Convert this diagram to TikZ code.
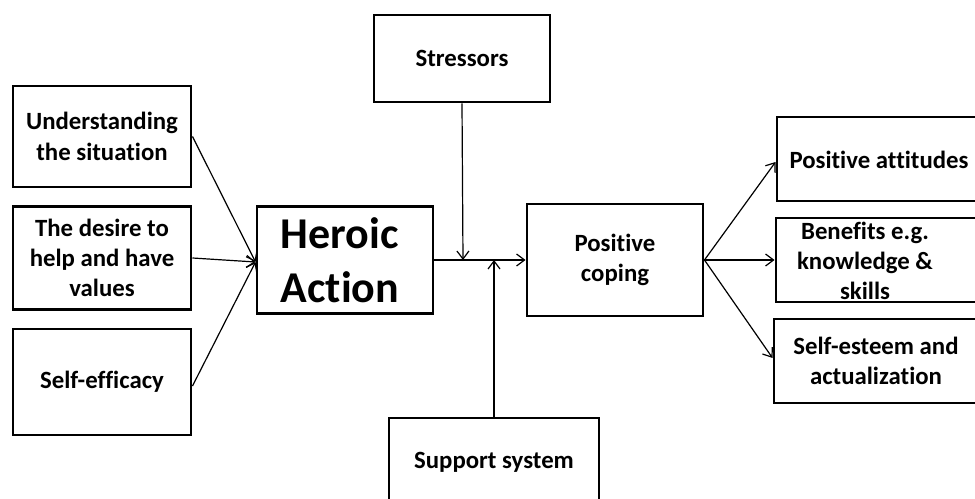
\documentclass[tikz,border=0pt]{standalone}
\usepackage{fontspec}
\setmainfont{Carlito}[Ligatures={NoCommon}]
\usetikzlibrary{arrows.meta}
\begin{document}
\begin{tikzpicture}[x=0.75pt,y=-0.75pt,
  box/.style={draw=black,line width=2.2pt,rectangle,inner sep=0pt,align=center,
    font=\fontsize{18.6}{22.7}\selectfont\bfseries},
  txt/.style={inner sep=0pt,align=center,font=\fontsize{18.6}{22.7}\selectfont\bfseries},
  conn/.style={line width=0.9pt,-{Straight Barb[length=6pt,width=9pt,line width=0.9pt]}},
  plain/.style={line width=0.9pt}]
\useasboundingbox (0,0) rectangle (975,499);
\clip (0,0) rectangle (975,499);
% left boxes
\node[box,minimum width=178*0.75pt,minimum height=101*0.75pt] (U) at (102,136.5) {Understanding\\the situation};
\node[box,minimum width=178*0.75pt,minimum height=103*0.75pt] (D) at (102,258) {The desire to\\help and have\\values};
\node[box,minimum width=178*0.75pt,minimum height=106*0.75pt] (E) at (102,382) {Self-efficacy};
% centre
\node[box,minimum width=176*0.75pt,minimum height=107*0.75pt] (H) at (345,260) {};
\node[txt,align=left,font=\fontsize{33}{40.5}\selectfont\bfseries] (Ht) at (340,260) {Heroic\\Action};
\node[box,minimum width=176*0.75pt,minimum height=87*0.75pt] (S) at (462,58.5) {Stressors};
\node[box,minimum width=176*0.75pt,minimum height=112*0.75pt] (C) at (615,260) {Positive\\coping};
\node[box,minimum width=210*0.75pt,minimum height=100*0.75pt] (P) at (494,468) {};
\node[txt] (Pt) at (494,462) {Support system};
% right boxes
\node[box,minimum width=210*0.75pt,minimum height=84*0.75pt] (A) at (882,159) {};
\node[txt] (At) at (879,160) {Positive attitudes};
\node[box,minimum width=210*0.75pt,minimum height=84*0.75pt] (B) at (881,260) {};
\node[txt] (Bt) at (865,261) {Benefits e.g.\\knowledge \&\\skills};
\node[box,minimum width=210*0.75pt,minimum height=84*0.75pt] (F) at (879,361) {};
\node[txt] (Ft) at (876,361) {Self-esteem and\\actualization};
% junctions
\coordinate (j1) at (463,260);
\coordinate (j2) at (494,260);
% connectors
\draw[conn] (U.east) -- ([yshift=-2*0.75pt]H.west);
\draw[conn] (D.east) -- ([yshift=-2*0.75pt]H.west);
\draw[conn] ([yshift=-4*0.75pt]E.east) -- ([yshift=-2*0.75pt]H.west);
\draw[conn] (H.east) -- (C.west);
\draw[conn] (S.south) -- (j1);
\draw[conn] (P.north) -- (j2);
\draw[conn] (C.east) -- ([yshift=-3*0.75pt]A.west);
\draw[conn] (C.east) -- (B.west);
\draw[conn] (C.east) -- ([yshift=3*0.75pt]F.west);
\end{tikzpicture}
\end{document}
